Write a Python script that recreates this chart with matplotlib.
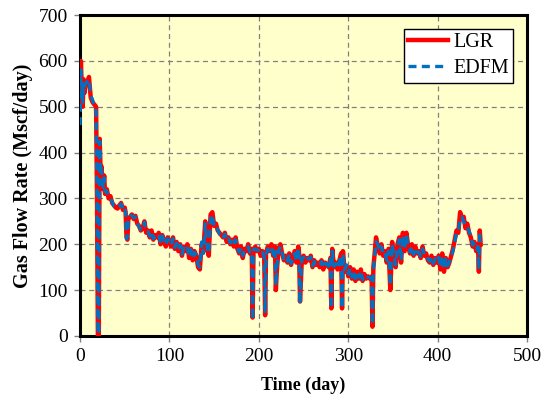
#! /usr/bin/env python

import matplotlib.pyplot as plt
import numpy as np


# Time (day)
day = [0, 1, 2, 3, 4, 5, 6, 8, 10, 12,
       14, 16, 18, 19, 20, 21, 22, 23, 24, 25,
       26, 27, 28, 30, 32, 34, 36, 38, 40, 42,
       44, 46, 48, 50, 51, 52, 53, 54, 56, 58,
       60, 62, 64, 66, 68, 70, 72, 74, 76, 78,
       80, 82, 84, 86, 88, 90, 92, 94, 96, 98,
       100, 102, 104, 106, 108, 110, 112, 114, 116, 118,
       120, 122, 124, 126, 128, 130, 132, 134, 136, 138,
       140, 142, 144, 146, 148, 150, 152, 154, 156, 158,
       160, 162, 164, 166, 168, 170, 172, 174, 176, 178,
       180, 182, 184, 186, 188, 190, 192, 193, 194, 196,
       198, 200, 202, 204, 206, 207, 208, 210, 212, 214,
       216, 218, 219, 220, 222, 224, 226, 228, 230, 232,
       234, 236, 238, 240, 242, 244, 245, 246, 248, 250,
       252, 254, 256, 258, 260, 262, 264, 266, 268, 270,
       272, 274, 276, 278, 280, 281, 282, 284, 286, 288,
       290, 292, 293, 294, 296, 298, 300, 302, 304, 306,
       308, 310, 312, 314, 316, 318, 320, 322, 324, 326,
       327, 328, 329, 331, 333, 335, 337, 339, 341, 343,
       345, 347, 349, 351, 353, 355, 357, 359, 361, 363,
       365, 367, 369, 371, 373, 375, 377, 379, 381, 383,
       385, 387, 389, 391, 393, 395, 397, 399, 401, 403,
       405, 407, 409, 411, 413, 415, 417, 419, 421, 423,
       425, 427, 429, 431, 433, 435, 437, 439, 441, 443,
       445, 446, 447, 448]

# Gas flow rate (Mscf/day)
q_lgr = [520, 600, 540, 500, 560, 530, 545, 550, 565, 520,
         510, 505, 500, 300, 0, 0, 430, 360, 370, 340,
         320, 350, 310, 320, 300, 305, 290, 285, 280, 278,
         285, 290, 275, 280, 270, 215, 210, 255, 260, 265,
         255, 262, 245, 240, 230, 235, 250, 225, 230, 215,
         230, 210, 220, 215, 225, 200, 220, 205, 195, 215,
         205, 195, 215, 190, 205, 185, 200, 175, 195, 185,
         200, 170, 190, 165, 185, 175, 150, 145, 200, 185,
         250, 190, 175, 265, 270, 240, 245, 230, 225, 220,
         215, 225, 205, 215, 200, 210, 195, 215, 190, 180,
         195, 170, 190, 185, 200, 180, 190, 40, 185, 195,
         185, 190, 175, 185, 170, 45, 180, 195, 185, 200,
         175, 195, 100, 140, 190, 200, 180, 165, 175, 160,
         180, 155, 170, 185, 160, 195, 180, 75, 165, 175,
         160, 170, 165, 175, 150, 165, 155, 160, 150, 165,
         145, 160, 155, 150, 170, 60, 190, 150, 160, 145,
         165, 180, 60, 185, 140, 150, 130, 150, 125, 145,
         120, 140, 125, 145, 120, 135, 125, 130, 125, 130,
         20, 150, 170, 215, 195, 180, 200, 175, 185, 160,
         190, 100, 205, 170, 150, 200, 215, 160, 225, 185,
         225, 195, 180, 200, 175, 195, 180, 185, 170, 195,
         175, 180, 165, 160, 175, 155, 170, 160, 175, 145,
         180, 140, 170, 150, 160, 175, 190, 210, 230, 225,
         270, 255, 260, 235, 245, 225, 215, 195, 205, 185,
         200, 140, 230, 200]

q_edfm = [460, 580, 560, 510, 545, 540, 550, 555, 560, 525,
          515, 500, 490, 300, 5, 5, 425, 355, 365, 335,
          325, 345, 315, 315, 305, 300, 292, 283, 282, 280,
          283, 288, 278, 282, 268, 212, 215, 250, 262, 262,
          258, 260, 248, 238, 232, 232, 248, 228, 228, 218,
          228, 212, 218, 218, 222, 203, 218, 208, 198, 212,
          208, 198, 212, 193, 202, 188, 198, 178, 192, 188,
          195, 175, 188, 168, 182, 178, 155, 150, 205, 180,
          245, 195, 180, 255, 265, 238, 240, 232, 222, 218,
          212, 222, 208, 212, 203, 207, 198, 210, 192, 183,
          192, 175, 188, 188, 195, 183, 185, 35, 188, 190,
          188, 185, 178, 182, 172, 50, 175, 190, 188, 195,
          178, 190, 110, 145, 185, 195, 182, 168, 172, 163,
          178, 158, 168, 180, 163, 192, 175, 70, 168, 172,
          163, 168, 168, 172, 153, 162, 158, 158, 153, 162,
          148, 158, 158, 152, 168, 60, 185, 152, 158, 148,
          162, 175, 60, 180, 145, 155, 135, 148, 128, 142,
          125, 138, 128, 142, 123, 132, 128, 128, 128, 125,
          25, 140, 165, 205, 200, 185, 195, 178, 182, 165,
          185, 110, 200, 175, 155, 195, 210, 165, 220, 190,
          220, 198, 183, 195, 178, 192, 183, 182, 173, 190,
          178, 178, 168, 163, 172, 158, 168, 163, 172, 150,
          175, 145, 168, 153, 162, 172, 185, 205, 225, 228,
          255, 260, 250, 240, 240, 228, 218, 198, 202, 190,
          195, 145, 220, 205]


###################################
#          Figure set-up          #
###################################
plt.rcParams['font.family'] = ['Liberation Serif', 'DejaVu Serif']

fig = plt.figure(figsize=(5.48, 3.98), dpi=100)
ax = fig.add_axes([0.146, 0.156, 0.816, 0.806])
ax.set_facecolor('#FFFFCC')

# Curves
ax.plot(day, q_lgr, color='#FF0000', linewidth=3.2, label='LGR', zorder=3)
ax.plot(day, q_edfm, color='#0070C0', linewidth=2.4, linestyle=(0, (2.4, 1.6)),
        label='EDFM', zorder=4)

# Axes
ax.set_xlim(0, 500)
ax.set_ylim(0, 700)
ax.set_xticks(np.arange(0, 501, 100))
ax.set_yticks(np.arange(0, 701, 100))
ax.tick_params(labelsize=14, length=4, width=1, color='#808080', direction='out', pad=5)
ax.grid(True, color='#808080', linestyle=(0, (4, 3)), linewidth=0.9)
ax.set_axisbelow(True)

for side in ['top', 'right', 'left', 'bottom']:
    ax.spines[side].set_linewidth(2.2)
    ax.spines[side].set_color('black')

ax.set_xlabel('Time (day)', fontsize=13, fontweight='bold', labelpad=8)
ax.set_ylabel('Gas Flow Rate (Mscf/day)', fontsize=14.5, fontweight='bold', labelpad=4)

# Legend
leg = ax.legend(loc='upper right', fontsize=14.5, frameon=True, fancybox=False,
                edgecolor='black', framealpha=1, handlelength=2.0,
                borderaxespad=0.7, borderpad=0.2, labelspacing=0.35, handletextpad=0.25)
leg.get_frame().set_linewidth(1.0)

fig.savefig('out.png', dpi=100)
